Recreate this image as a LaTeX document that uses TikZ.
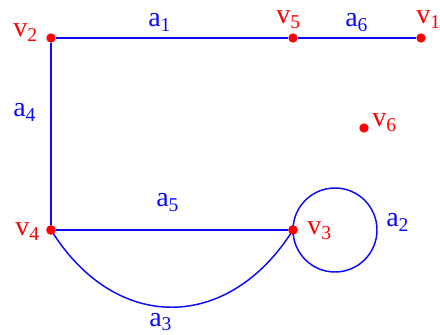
\documentclass[tikz,border=0pt]{standalone}
\usepackage{fontspec}
\setmainfont{Liberation Serif}
\usetikzlibrary{positioning}
\definecolor{vertex}{RGB}{255,0,0}
\definecolor{edge}{RGB}{10,10,255}

\begin{document}
\begin{tikzpicture}[
    x=0.75pt, y=-0.75pt,
    every node/.style={font=\fontsize{21}{24}\selectfont},
    dot/.style={circle, fill=vertex, inner sep=0pt, minimum size=7pt},
    vlabel/.style={anchor=base west, inner sep=0pt, text=vertex},
    elabel/.style={anchor=base west, inner sep=0pt, text=edge},
    link/.style={draw=edge, line width=1.5pt},
    curve/.style={draw=edge, line width=1.1pt},
]
\useasboundingbox (0,0) rectangle (440,335);

% vertices
\node[dot] (v2) at (51,38) {};
\node[dot] (v5) at (293,38) {};
\node[dot] (v1) at (421,38) {};
\node[dot] (v6) at (364,128) {};
\node[dot] (v4) at (51,230) {};
\node[dot] (v3) at (293,230) {};
\coordinate (c3) at (335,230);

% edges
\draw[link] (v2) -- (v5);
\draw[link] (v5) -- (v1);
\draw[link] (v2) -- (v4);
\draw[link] (v4) -- (v3);
\draw[curve] (v4.center) .. controls (115,333) and (228,333) .. (v3.center);
\draw[curve] (c3) circle [radius=31.5pt];
\node[dot] at (v4) {};
\node[dot] at (v3) {};

% vertex labels
\node[vlabel] (lv2) at (13,37) {v\textsubscript{2}};
\node[vlabel] (lv5) at (276,24) {v\textsubscript{5}};
\node[vlabel] (lv1) at (416,24) {v\textsubscript{1}};
\node[vlabel] (lv6) at (372,127) {v\textsubscript{6}};
\node[vlabel] (lv4) at (15,236) {v\textsubscript{4}};
\node[vlabel] (lv3) at (307,235) {v\textsubscript{3}};

% edge labels
\node[elabel] (la1) at (148,27) {a\textsubscript{1}};
\node[elabel] (la6) at (345,27) {a\textsubscript{6}};
\node[elabel] (la4) at (13,117) {a\textsubscript{4}};
\node[elabel] (la5) at (156,207) {a\textsubscript{5}};
\node[elabel] (la2) at (386,227) {a\textsubscript{2}};
\node[elabel] (la3) at (149,326) {a\textsubscript{3}};

\end{tikzpicture}
\end{document}
